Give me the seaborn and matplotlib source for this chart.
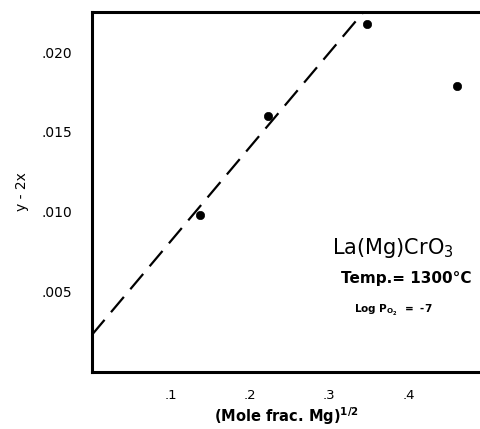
import matplotlib
matplotlib.use("Agg")
import matplotlib.pyplot as plt
import seaborn as sns
import pandas as pd

# data
mg_sqrt = [0.137, 0.222, 0.348, 0.461]
y_minus_2x = [0.0098, 0.0160, 0.02175, 0.0179]
fit_x = [0.0, 0.343]
fit_y = [0.0023, 0.0225]
xticks = [0.1, 0.2, 0.3, 0.4]
xticklabels = [".1", ".2", ".3", ".4"]
yticks = [0.005, 0.010, 0.015, 0.020]
yticklabels = [".005", ".010", ".015", ".020"]

sns.set_style("white")
plt.rcParams['font.family'] = ['DejaVu Sans']
plt.rcParams['text.color'] = 'black'
plt.rcParams['axes.labelcolor'] = 'black'
plt.rcParams['xtick.color'] = 'black'
plt.rcParams['ytick.color'] = 'black'

pts = pd.DataFrame({"x": mg_sqrt, "y": y_minus_2x})
fit = pd.DataFrame({"x": fit_x, "y": fit_y})

fig = plt.figure(figsize=(4.8, 4.29), dpi=100)
ax = fig.add_axes([0.191, 0.133, 0.809, 0.839])

sns.lineplot(data=fit, x="x", y="y", ax=ax, color="black", linewidth=1.6,
             dashes=False, linestyle=(0, (9, 4.5)))
sns.scatterplot(data=pts, x="x", y="y", ax=ax, color="black", s=36,
                edgecolor="black", zorder=3)

ax.set_xlim(0, 0.49)
ax.set_ylim(0, 0.0225)
ax.set_xticks(xticks)
ax.set_xticklabels(xticklabels, fontsize=9.5)
ax.set_yticks(yticks)
ax.set_yticklabels(yticklabels, fontsize=10)
ax.tick_params(axis="both", direction="in", length=3, width=1.2, pad=12)
ax.tick_params(axis="x", pad=12)
ax.tick_params(axis="y", pad=14)

for side in ["left", "bottom", "top"]:
    ax.spines[side].set_linewidth(2.2)
    ax.spines[side].set_color("black")
ax.spines["right"].set_visible(False)

ax.set_xlabel(r"(Mole frac. Mg)$^{\mathbf{1/2}}$", fontsize=10.5, fontweight="bold", labelpad=3)
ax.set_ylabel("y - 2x", fontsize=10, labelpad=9)

ax.text(0.776, 0.344, r"La(Mg)CrO$_3$", transform=ax.transAxes, fontsize=15,
        ha="center", va="center")
ax.text(0.81, 0.261, "Temp.= 1300°C", transform=ax.transAxes, fontsize=11,
        fontweight="bold", ha="center", va="center")
ax.text(0.776, 0.172, r"Log P$_{\mathbf{O_2}}$  =  -7", transform=ax.transAxes, fontsize=7.5,
        fontweight="bold", ha="center", va="center")

fig.savefig("out.png", dpi=100)
